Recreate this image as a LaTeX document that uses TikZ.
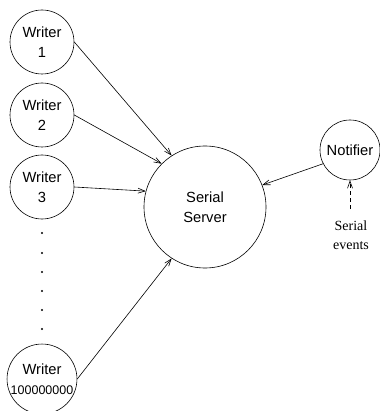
\documentclass[tikz,border=0pt]{standalone}
\usepackage{fontspec}
\setmainfont{Liberation Sans}
\newfontfamily\serifnote{Liberation Serif}
\usetikzlibrary{arrows.meta}
\begin{document}
\begin{tikzpicture}[x=1pt,y=-1pt,
  proc/.style={circle,draw,line width=0.6pt,inner sep=0pt,align=center,
    font=\fontsize{14.7}{20.5}\selectfont},
  writer/.style={proc,minimum size=64pt},
  dotmark/.style={circle,fill,inner sep=0pt,minimum size=2.2pt},
  conn/.style={line width=0.6pt,-{Straight Barb[length=7pt,width=5pt]}},
  note/.style={align=center,font=\serifnote\fontsize{14}{19}\selectfont}]
\useasboundingbox (0,0) rectangle (379,411);
\node[writer] (w1) at (42,42) {Writer\\1};
\node[writer] (w2) at (42,115) {Writer\\2};
\node[writer] (w3) at (42,187) {Writer\\3};
\node[writer] (wn) at (42,379) {Writer\\{\fontsize{12.5}{20.5}\selectfont 100000000}};
\node[proc,minimum size=122pt] (srv) at (205,207) {Serial\\Server};
\node[proc,minimum size=60pt] (ntf) at (350,150) {Notifier};
\foreach \i/\y in {1/233,2/253,3/272,4/291,5/310,6/329}
  \node[dotmark] (d\i) at (42,\y) {};
\node[note] (ev) at (351,235) {Serial\\events};
\coordinate (evtop) at (350,209);
\draw[conn] (w1.east) -- (srv.123);
\draw[conn] (w2.east) -- (srv.135);
\draw[conn] (w3.east) -- (srv.165);
\draw[conn] (wn.east) -- (srv.237);
\draw[conn] (ntf.207) -- (srv.21);
\draw[conn,dashed,dash pattern=on 4pt off 3pt] (evtop) -- (ntf.south);
\end{tikzpicture}
\end{document}
